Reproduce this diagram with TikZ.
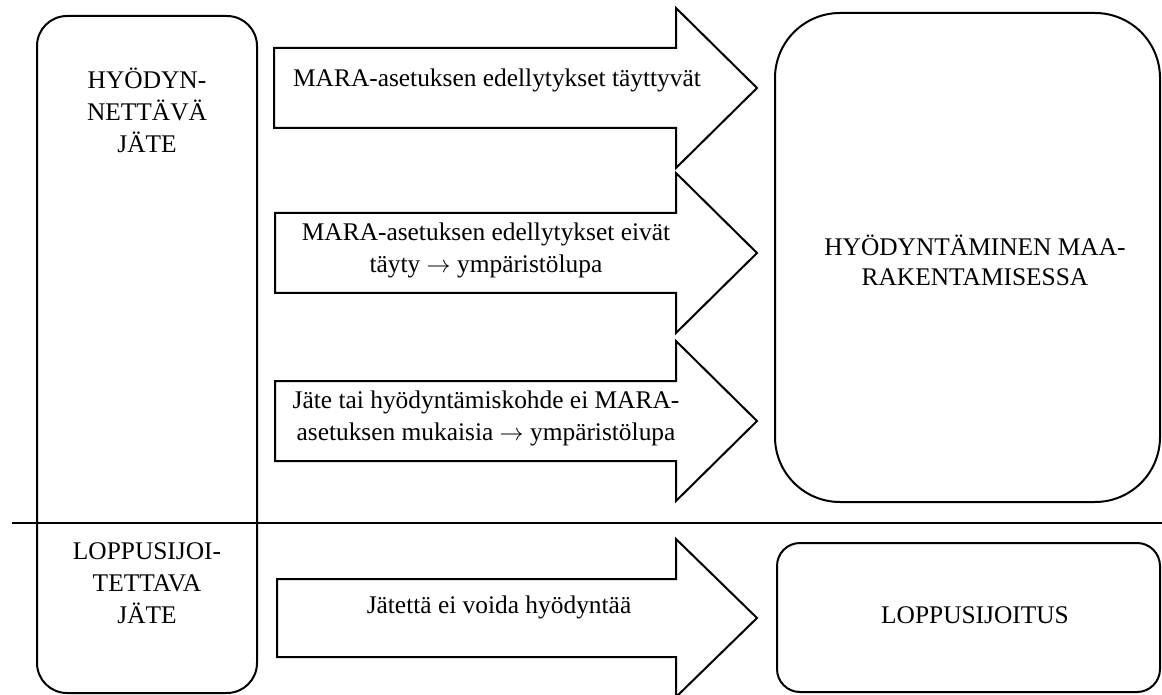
\documentclass[tikz,border=0pt]{standalone}
\usepackage{fontspec}
\setmainfont{Liberation Serif}
\begin{document}
\begin{tikzpicture}[x=0.5pt,y=-0.5pt,
  box/.style={draw, line width=1pt, line join=miter},
  lbl/.style={font=\fontsize{12.7}{16}\selectfont, align=center, inner sep=0pt}]
\useasboundingbox (0,0) rectangle (1162,695);
% left column box
\draw[box, rounded corners=15pt] (37,16) rectangle (257,693);
% separator line
\draw[line width=1pt] (12,523) -- (1162,523);
% right boxes
\draw[box, rounded corners=32.5pt] (775,13) rectangle (1160,502);
\draw[box, rounded corners=11.5pt] (777,543) rectangle (1160,692);
% block arrows
\draw[box] (274,48) -- (676,48) -- (676,8) -- (757,88) -- (676,168) -- (676,128) -- (274,128) -- cycle;
\draw[box] (275,213) -- (676,213) -- (676,173) -- (757,253) -- (676,333) -- (676,293) -- (275,293) -- cycle;
\draw[box] (275,381) -- (676,381) -- (676,341) -- (757,421) -- (676,501) -- (676,461) -- (275,461) -- cycle;
\draw[box] (277,579) -- (676,579) -- (676,539) -- (757,618) -- (676,697) -- (676,657) -- (277,657) -- cycle;
% texts
\node[lbl] (hj) at (147,110) {HYÖDYN-\\NETTÄVÄ\\JÄTE};
\node[lbl] (lj) at (147,583) {LOPPUSIJOI-\\TETTAVA\\JÄTE};
\node[lbl] (a1) at (497,80) {MARA-asetuksen edellytykset täyttyvät};
\node[lbl] (a2) at (486,250) {MARA-asetuksen edellytykset eivät\\täyty $\rightarrow$ ympäristölupa};
\node[lbl] (a3) at (486,418) {Jäte tai hyödyntämiskohde ei MARA-\\asetuksen mukaisia $\rightarrow$ ympäristölupa};
\node[lbl] (a4) at (499,607) {Jätettä ei voida hyödyntää};
\node[lbl, font=\fontsize{12.7}{15}\selectfont] (hm) at (975,260) {HYÖDYNTÄMINEN MAA-\\RAKENTAMISESSA};
\node[lbl] (ls) at (975,615) {LOPPUSIJOITUS};
\end{tikzpicture}
\end{document}
